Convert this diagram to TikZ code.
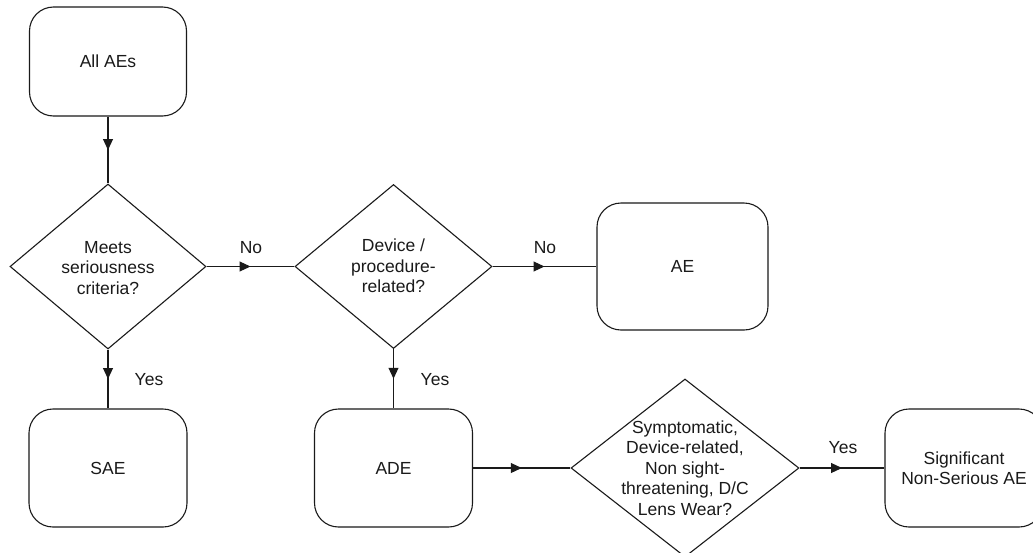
\documentclass[tikz,border=0pt]{standalone}
\usepackage{fontspec}
\setmainfont{Liberation Sans}
\usetikzlibrary{shapes.geometric, decorations.markings, arrows.meta}
\definecolor{ink}{HTML}{1A1A1A}
\begin{document}
\begin{tikzpicture}[x=1pt,y=-1pt, line width=1.1pt, draw=ink, text=ink,
  every node/.style={font=\fontsize{17.5}{20.5}\selectfont},
  box/.style={draw=ink, rectangle, rounded corners=24pt, minimum width=158pt, minimum height=118pt, inner sep=0pt, align=center},
  dia/.style={draw=ink, diamond, inner sep=0pt},
  txt/.style={align=center, inner sep=0pt},
  lbl/.style={inner sep=0pt, anchor=base},
  flow/.style={draw=ink, postaction={decorate}, decoration={markings, mark=at position 0.5 with {\arrow{Triangle[length=11pt,width=10pt]}}}}
]
\clip (0,0) rectangle (1033,552);
\fill[white] (0,0) rectangle (1033,552);

\node[box, minimum width=157pt, minimum height=109pt] (all) at (108,61.5) {All AEs};
\node[dia, minimum width=196pt, minimum height=165pt] (d1) at (108,266.5) {};
\node[txt] (t1) at (108,268) {Meets\\seriousness\\criteria?};
\node[dia, minimum width=197pt, minimum height=164pt] (d2) at (393.5,266.5) {};
\node[txt] (t2) at (393.5,266) {Device /\\procedure-\\related?};
\node[box, minimum width=171pt, minimum height=127pt] (ae) at (682.5,266.5) {AE};
\node[box] (sae) at (108,468) {SAE};
\node[box] (ade) at (393.5,468) {ADE};
\node[dia, minimum width=228pt, minimum height=178pt] (d3) at (685,468) {};
\node[txt] (t3) at (685,468) {Symptomatic,\\Device-related,\\Non sight-\\threatening, D/C\\Lens Wear?};
\node[box] (sig) at (964,468) {Significant\\Non-Serious AE};

\draw[flow] (all.south) -- (d1.north);
\draw[flow] (d1.east) -- (d2.west);
\draw[flow] (d2.east) -- (ae.west);
\draw[flow] (d1.south) -- (sae.north);
\draw[flow] (d2.south) -- (ade.north);
\draw[flow] (ade.east) -- (d3.west);
\draw[flow] (d3.east) -- (sig.west);

\node[lbl] (n1) at (251,253) {No};
\node[lbl] (n2) at (545,253) {No};
\node[lbl] (y1) at (149,385) {Yes};
\node[lbl] (y2) at (435,385) {Yes};
\node[lbl] (y3) at (843,453) {Yes};
\end{tikzpicture}
\end{document}
